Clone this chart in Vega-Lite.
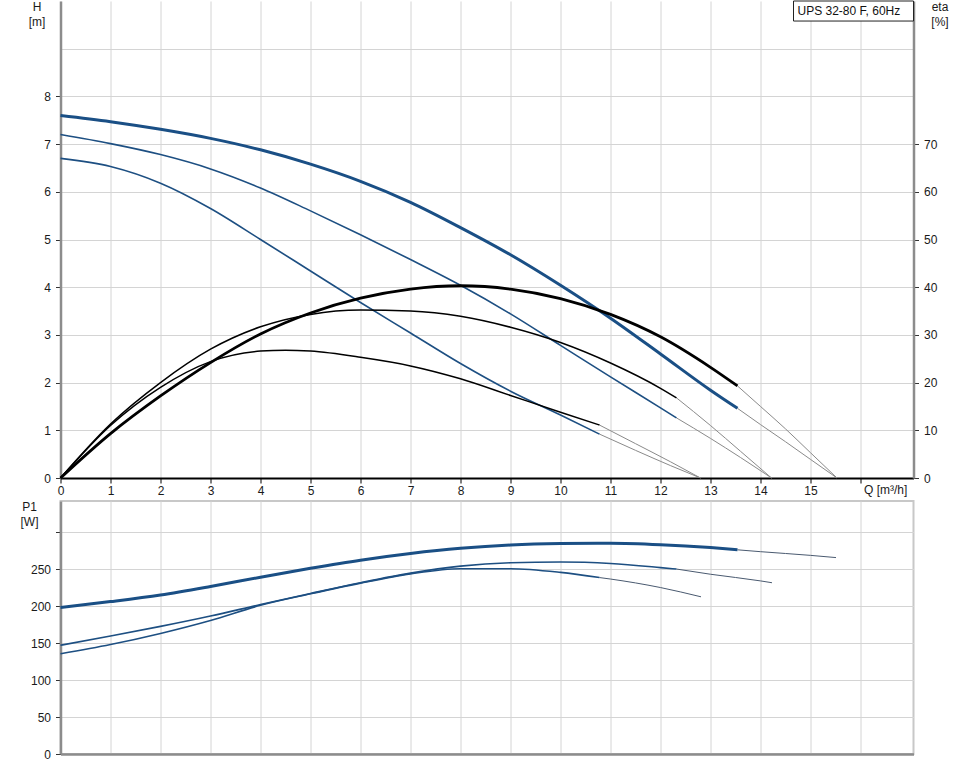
{
  "$schema": "https://vega.github.io/schema/vega-lite/v6.json",
  "background": "white",
  "padding": {"left": 18.5, "top": 0, "right": 5, "bottom": 5},
  "spacing": 23,
  "bounds": "flush",
  "config": {
    "font": "Liberation Sans",
    "view": {"stroke": null},
    "axis": {
      "labelFont": "Liberation Sans", "labelFontSize": 12, "labelColor": "#1a1a1a",
      "titleFont": "Liberation Sans", "titleFontSize": 12, "titleFontWeight": "normal", "titleColor": "#1a1a1a",
      "gridColor": "#d4d4d4", "gridWidth": 1, "tickColor": "#333333", "tickSize": 5, "labelPadding": 5,
      "domainColor": "#8c8c8c", "domainWidth": 2.5
    }
  },
  "datasets": {
    "H": [
      {"Q":0,"H":7.6,"speed":"3","seg":"curve"},{"Q":1,"H":7.47,"speed":"3","seg":"curve"},{"Q":2,"H":7.31,"speed":"3","seg":"curve"},{"Q":3,"H":7.12,"speed":"3","seg":"curve"},{"Q":4,"H":6.88,"speed":"3","seg":"curve"},{"Q":5,"H":6.58,"speed":"3","seg":"curve"},{"Q":6,"H":6.22,"speed":"3","seg":"curve"},{"Q":7,"H":5.78,"speed":"3","seg":"curve"},{"Q":8,"H":5.25,"speed":"3","seg":"curve"},{"Q":9,"H":4.68,"speed":"3","seg":"curve"},{"Q":10,"H":4.04,"speed":"3","seg":"curve"},{"Q":11,"H":3.35,"speed":"3","seg":"curve"},{"Q":12,"H":2.6,"speed":"3","seg":"curve"},{"Q":13,"H":1.84,"speed":"3","seg":"curve"},{"Q":13.54,"H":1.46,"speed":"3","seg":"curve"},
      {"Q":13.54,"H":1.46,"speed":"3","seg":"ext"},{"Q":14,"H":1.12,"speed":"3","seg":"ext"},{"Q":14.5,"H":0.76,"speed":"3","seg":"ext"},{"Q":15,"H":0.39,"speed":"3","seg":"ext"},{"Q":15.53,"H":0,"speed":"3","seg":"ext"},
      {"Q":0,"H":7.2,"speed":"2","seg":"curve"},{"Q":1,"H":7.01,"speed":"2","seg":"curve"},{"Q":2,"H":6.78,"speed":"2","seg":"curve"},{"Q":3,"H":6.48,"speed":"2","seg":"curve"},{"Q":4,"H":6.08,"speed":"2","seg":"curve"},{"Q":5,"H":5.6,"speed":"2","seg":"curve"},{"Q":6,"H":5.1,"speed":"2","seg":"curve"},{"Q":7,"H":4.58,"speed":"2","seg":"curve"},{"Q":8,"H":4.04,"speed":"2","seg":"curve"},{"Q":9,"H":3.44,"speed":"2","seg":"curve"},{"Q":10,"H":2.78,"speed":"2","seg":"curve"},{"Q":11,"H":2.12,"speed":"2","seg":"curve"},{"Q":12,"H":1.47,"speed":"2","seg":"curve"},{"Q":12.32,"H":1.26,"speed":"2","seg":"curve"},
      {"Q":12.32,"H":1.26,"speed":"2","seg":"ext"},{"Q":13,"H":0.83,"speed":"2","seg":"ext"},{"Q":13.6,"H":0.43,"speed":"2","seg":"ext"},{"Q":14.22,"H":0,"speed":"2","seg":"ext"},
      {"Q":0,"H":6.7,"speed":"1","seg":"curve"},{"Q":1,"H":6.53,"speed":"1","seg":"curve"},{"Q":2,"H":6.18,"speed":"1","seg":"curve"},{"Q":3,"H":5.65,"speed":"1","seg":"curve"},{"Q":4,"H":5.0,"speed":"1","seg":"curve"},{"Q":5,"H":4.34,"speed":"1","seg":"curve"},{"Q":6,"H":3.68,"speed":"1","seg":"curve"},{"Q":7,"H":3.04,"speed":"1","seg":"curve"},{"Q":8,"H":2.4,"speed":"1","seg":"curve"},{"Q":9,"H":1.82,"speed":"1","seg":"curve"},{"Q":10,"H":1.32,"speed":"1","seg":"curve"},{"Q":10.78,"H":0.92,"speed":"1","seg":"curve"},
      {"Q":10.78,"H":0.92,"speed":"1","seg":"ext"},{"Q":11.5,"H":0.58,"speed":"1","seg":"ext"},{"Q":12.2,"H":0.26,"speed":"1","seg":"ext"},{"Q":12.8,"H":0,"speed":"1","seg":"ext"}
    ],
    "eta": [
      {"Q":0,"eta":0,"speed":"3","seg":"curve"},{"Q":1,"eta":9.3,"speed":"3","seg":"curve"},{"Q":2,"eta":17.2,"speed":"3","seg":"curve"},{"Q":3,"eta":24.2,"speed":"3","seg":"curve"},{"Q":4,"eta":30.2,"speed":"3","seg":"curve"},{"Q":5,"eta":34.6,"speed":"3","seg":"curve"},{"Q":6,"eta":37.7,"speed":"3","seg":"curve"},{"Q":7,"eta":39.6,"speed":"3","seg":"curve"},{"Q":8,"eta":40.3,"speed":"3","seg":"curve"},{"Q":9,"eta":39.6,"speed":"3","seg":"curve"},{"Q":10,"eta":37.6,"speed":"3","seg":"curve"},{"Q":11,"eta":34.3,"speed":"3","seg":"curve"},{"Q":12,"eta":29.6,"speed":"3","seg":"curve"},{"Q":13,"eta":23.2,"speed":"3","seg":"curve"},{"Q":13.54,"eta":19.3,"speed":"3","seg":"curve"},
      {"Q":13.54,"eta":19.3,"speed":"3","seg":"ext"},{"Q":14,"eta":15,"speed":"3","seg":"ext"},{"Q":14.5,"eta":10.3,"speed":"3","seg":"ext"},{"Q":15,"eta":5.3,"speed":"3","seg":"ext"},{"Q":15.53,"eta":0,"speed":"3","seg":"ext"},
      {"Q":0,"eta":0,"speed":"2","seg":"curve"},{"Q":1,"eta":11.3,"speed":"2","seg":"curve"},{"Q":2,"eta":20,"speed":"2","seg":"curve"},{"Q":3,"eta":27,"speed":"2","seg":"curve"},{"Q":4,"eta":31.7,"speed":"2","seg":"curve"},{"Q":5,"eta":34.3,"speed":"2","seg":"curve"},{"Q":6,"eta":35.2,"speed":"2","seg":"curve"},{"Q":7,"eta":35,"speed":"2","seg":"curve"},{"Q":8,"eta":33.9,"speed":"2","seg":"curve"},{"Q":9,"eta":31.6,"speed":"2","seg":"curve"},{"Q":10,"eta":28.4,"speed":"2","seg":"curve"},{"Q":11,"eta":24.1,"speed":"2","seg":"curve"},{"Q":12,"eta":18.8,"speed":"2","seg":"curve"},{"Q":12.32,"eta":16.8,"speed":"2","seg":"curve"},
      {"Q":12.32,"eta":16.8,"speed":"2","seg":"ext"},{"Q":13,"eta":11,"speed":"2","seg":"ext"},{"Q":13.6,"eta":5.6,"speed":"2","seg":"ext"},{"Q":14.22,"eta":0,"speed":"2","seg":"ext"},
      {"Q":0,"eta":0,"speed":"1","seg":"curve"},{"Q":1,"eta":11,"speed":"1","seg":"curve"},{"Q":2,"eta":19,"speed":"1","seg":"curve"},{"Q":3,"eta":24.4,"speed":"1","seg":"curve"},{"Q":4,"eta":26.6,"speed":"1","seg":"curve"},{"Q":4.5,"eta":26.8,"speed":"1","seg":"curve"},{"Q":5,"eta":26.6,"speed":"1","seg":"curve"},{"Q":6,"eta":25.3,"speed":"1","seg":"curve"},{"Q":7,"eta":23.5,"speed":"1","seg":"curve"},{"Q":8,"eta":20.8,"speed":"1","seg":"curve"},{"Q":9,"eta":17.3,"speed":"1","seg":"curve"},{"Q":10,"eta":13.8,"speed":"1","seg":"curve"},{"Q":10.78,"eta":11.1,"speed":"1","seg":"curve"},
      {"Q":10.78,"eta":11.1,"speed":"1","seg":"ext"},{"Q":11.5,"eta":7.2,"speed":"1","seg":"ext"},{"Q":12.2,"eta":3.4,"speed":"1","seg":"ext"},{"Q":12.8,"eta":0,"speed":"1","seg":"ext"}
    ],
    "P": [
      {"Q":0,"P1":198,"speed":"3","seg":"curve"},{"Q":1,"P1":206,"speed":"3","seg":"curve"},{"Q":2,"P1":215,"speed":"3","seg":"curve"},{"Q":3,"P1":226.5,"speed":"3","seg":"curve"},{"Q":4,"P1":239,"speed":"3","seg":"curve"},{"Q":5,"P1":251,"speed":"3","seg":"curve"},{"Q":6,"P1":262,"speed":"3","seg":"curve"},{"Q":7,"P1":271,"speed":"3","seg":"curve"},{"Q":8,"P1":278,"speed":"3","seg":"curve"},{"Q":9,"P1":282.5,"speed":"3","seg":"curve"},{"Q":10,"P1":284.5,"speed":"3","seg":"curve"},{"Q":11,"P1":285,"speed":"3","seg":"curve"},{"Q":12,"P1":283,"speed":"3","seg":"curve"},{"Q":13,"P1":279,"speed":"3","seg":"curve"},{"Q":13.54,"P1":276,"speed":"3","seg":"curve"},
      {"Q":13.54,"P1":276,"speed":"3","seg":"ext"},{"Q":14,"P1":273.5,"speed":"3","seg":"ext"},{"Q":15,"P1":268.5,"speed":"3","seg":"ext"},{"Q":15.51,"P1":265.5,"speed":"3","seg":"ext"},
      {"Q":0,"P1":147,"speed":"2","seg":"curve"},{"Q":1,"P1":159.5,"speed":"2","seg":"curve"},{"Q":2,"P1":172.5,"speed":"2","seg":"curve"},{"Q":3,"P1":186.5,"speed":"2","seg":"curve"},{"Q":4,"P1":202,"speed":"2","seg":"curve"},{"Q":5,"P1":217,"speed":"2","seg":"curve"},{"Q":6,"P1":231.5,"speed":"2","seg":"curve"},{"Q":7,"P1":244.5,"speed":"2","seg":"curve"},{"Q":8,"P1":254,"speed":"2","seg":"curve"},{"Q":9,"P1":258.5,"speed":"2","seg":"curve"},{"Q":10,"P1":259.5,"speed":"2","seg":"curve"},{"Q":11,"P1":257.5,"speed":"2","seg":"curve"},{"Q":12,"P1":252,"speed":"2","seg":"curve"},{"Q":12.32,"P1":250,"speed":"2","seg":"curve"},
      {"Q":12.32,"P1":250,"speed":"2","seg":"ext"},{"Q":13,"P1":243,"speed":"2","seg":"ext"},{"Q":14,"P1":234,"speed":"2","seg":"ext"},{"Q":14.23,"P1":231.5,"speed":"2","seg":"ext"},
      {"Q":0,"P1":135.5,"speed":"1","seg":"curve"},{"Q":1,"P1":148,"speed":"1","seg":"curve"},{"Q":2,"P1":163,"speed":"1","seg":"curve"},{"Q":3,"P1":180.5,"speed":"1","seg":"curve"},{"Q":4,"P1":201,"speed":"1","seg":"curve"},{"Q":5,"P1":216.5,"speed":"1","seg":"curve"},{"Q":6,"P1":231,"speed":"1","seg":"curve"},{"Q":7,"P1":243.5,"speed":"1","seg":"curve"},{"Q":8,"P1":250.5,"speed":"1","seg":"curve"},{"Q":9,"P1":250.5,"speed":"1","seg":"curve"},{"Q":10,"P1":245.5,"speed":"1","seg":"curve"},{"Q":10.78,"P1":238.5,"speed":"1","seg":"curve"},
      {"Q":10.78,"P1":238.5,"speed":"1","seg":"ext"},{"Q":11,"P1":236.5,"speed":"1","seg":"ext"},{"Q":12,"P1":225,"speed":"1","seg":"ext"},{"Q":12.81,"P1":212.5,"speed":"1","seg":"ext"}
    ],
    "label": [{"model": "UPS 32-80 F, 60Hz"}]
  },
  "vconcat": [
    {
      "width": 853,
      "height": 477,
      "layer": [
        {
          "data": {"name": "H"},
          "layer": [
            {
              "transform": [{"filter": "datum.seg == 'ext'"}],
              "mark": {"type": "line", "color": "#8a8a8a", "strokeWidth": 1, "interpolate": "monotone"},
              "encoding": {
                "x": {
                  "field": "Q", "type": "quantitative",
                  "scale": {"domain": [0, 17.06], "nice": false, "zero": false},
                  "axis": {
                    "values": [0,1,2,3,4,5,6,7,8,9,10,11,12,13,14,15,16],
                    "labelExpr": "datum.value > 15 ? '' : datum.label",
                    "grid": true, "domainColor": "#000000", "domainWidth": 2, "tickColor": "#000000",
                    "labelPadding": 2, "labelFlush": false,
                    "title": "Q [m³/h]", "titleX": 803, "titleY": 6, "titleAlign": "left", "titleBaseline": "top"
                  }
                },
                "y": {
                  "field": "H", "type": "quantitative",
                  "scale": {"domain": [0, 10], "nice": false},
                  "axis": {
                    "orient": "left", "values": [0,1,2,3,4,5,6,7,8,9],
                    "labelExpr": "datum.value > 8 ? '' : datum.label",
                    "tickOpacity": {"condition": {"test": "datum.value > 8", "value": 0}, "value": 1},
                    "grid": true,
                    "title": ["H", "[m]"], "titleAngle": 0, "titleAlign": "center", "titleBaseline": "top",
                    "titleX": -24, "titleY": 0, "titleLineHeight": 15
                  }
                },
                "detail": {"field": "speed"}
              }
            },
            {
              "transform": [{"filter": "datum.seg == 'curve' && datum.speed != '3'"}],
              "mark": {"type": "line", "color": "#1d4f82", "strokeWidth": 1.6, "interpolate": "monotone"},
              "encoding": {
                "x": {"field": "Q", "type": "quantitative"},
                "y": {"field": "H", "type": "quantitative"},
                "detail": {"field": "speed"}
              }
            },
            {
              "transform": [{"filter": "datum.seg == 'curve' && datum.speed == '3'"}],
              "mark": {"type": "line", "color": "#1a4f85", "strokeWidth": 3, "interpolate": "monotone"},
              "encoding": {
                "x": {"field": "Q", "type": "quantitative"},
                "y": {"field": "H", "type": "quantitative"},
                "detail": {"field": "speed"}
              }
            },
            {
              "data": {"name": "label"},
              "mark": {"type": "rect", "fill": "white", "stroke": "#222222", "strokeWidth": 1},
              "encoding": {
                "x": {"datum": 14.66, "type": "quantitative"}, "x2": {"datum": 17.06},
                "y": {"datum": 9.58, "type": "quantitative"}, "y2": {"datum": 10}
              }
            },
            {
              "data": {"name": "label"},
              "mark": {"type": "text", "align": "left", "baseline": "middle", "fontSize": 12, "font": "Liberation Sans", "color": "#111111"},
              "encoding": {
                "x": {"datum": 14.74, "type": "quantitative"},
                "y": {"datum": 9.78, "type": "quantitative"},
                "text": {"field": "model"}
              }
            }
          ]
        },
        {
          "data": {"name": "eta"},
          "layer": [
            {
              "transform": [{"filter": "datum.seg == 'ext'"}],
              "mark": {"type": "line", "color": "#8a8a8a", "strokeWidth": 1, "interpolate": "monotone"},
              "encoding": {
                "x": {"field": "Q", "type": "quantitative"},
                "y": {
                  "field": "eta", "type": "quantitative",
                  "scale": {"domain": [0, 100], "nice": false},
                  "axis": {
                    "orient": "right", "values": [0,10,20,30,40,50,60,70],
                    "grid": false,
                    "title": ["eta", "[%]"], "titleAngle": 0, "titleAlign": "center", "titleBaseline": "top",
                    "titleX": 26, "titleY": 0, "titleLineHeight": 15
                  }
                },
                "detail": {"field": "speed"}
              }
            },
            {
              "transform": [{"filter": "datum.seg == 'curve' && datum.speed != '3'"}],
              "mark": {"type": "line", "color": "#000000", "strokeWidth": 1.5, "interpolate": "monotone"},
              "encoding": {
                "x": {"field": "Q", "type": "quantitative"},
                "y": {"field": "eta", "type": "quantitative"},
                "detail": {"field": "speed"}
              }
            },
            {
              "transform": [{"filter": "datum.seg == 'curve' && datum.speed == '3'"}],
              "mark": {"type": "line", "color": "#000000", "strokeWidth": 2.8, "interpolate": "monotone"},
              "encoding": {
                "x": {"field": "Q", "type": "quantitative"},
                "y": {"field": "eta", "type": "quantitative"},
                "detail": {"field": "speed"}
              }
            }
          ]
        }
      ],
      "resolve": {"scale": {"y": "independent"}, "axis": {"y": "independent"}}
    },
    {
      "width": 853,
      "height": 253,
      "view": {"stroke": "#c8c8c8", "strokeWidth": 2},
      "data": {"name": "P"},
      "encoding": {
        "x": {
          "field": "Q", "type": "quantitative",
          "scale": {"domain": [0, 17.06], "nice": false, "zero": false},
          "axis": {
            "values": [0,1,2,3,4,5,6,7,8,9,10,11,12,13,14,15,16],
            "grid": true, "labels": false, "ticks": false, "title": null,
            "domainColor": "#8c8c8c", "domainWidth": 2.5
          }
        },
        "y": {
          "field": "P1", "type": "quantitative",
          "scale": {"domain": [0, 342], "nice": false},
          "axis": {
            "values": [0,50,100,150,200,250,300],
            "labelExpr": "datum.value > 250 ? '' : datum.label",
            "grid": true,
            "title": ["P1", "[W]"], "titleAngle": 0, "titleAlign": "center", "titleBaseline": "top",
            "titleX": -31.5, "titleY": 0, "titleLineHeight": 15
          }
        },
        "detail": {"field": "speed"}
      },
      "layer": [
        {
          "transform": [{"filter": "datum.seg == 'ext'"}],
          "mark": {"type": "line", "color": "#4a5a70", "strokeWidth": 1, "interpolate": "monotone"}
        },
        {
          "transform": [{"filter": "datum.seg == 'curve' && datum.speed != '3'"}],
          "mark": {"type": "line", "color": "#1d4f82", "strokeWidth": 1.6, "interpolate": "monotone"}
        },
        {
          "transform": [{"filter": "datum.seg == 'curve' && datum.speed == '3'"}],
          "mark": {"type": "line", "color": "#1a4f85", "strokeWidth": 3, "interpolate": "monotone"}
        }
      ]
    }
  ]
}
